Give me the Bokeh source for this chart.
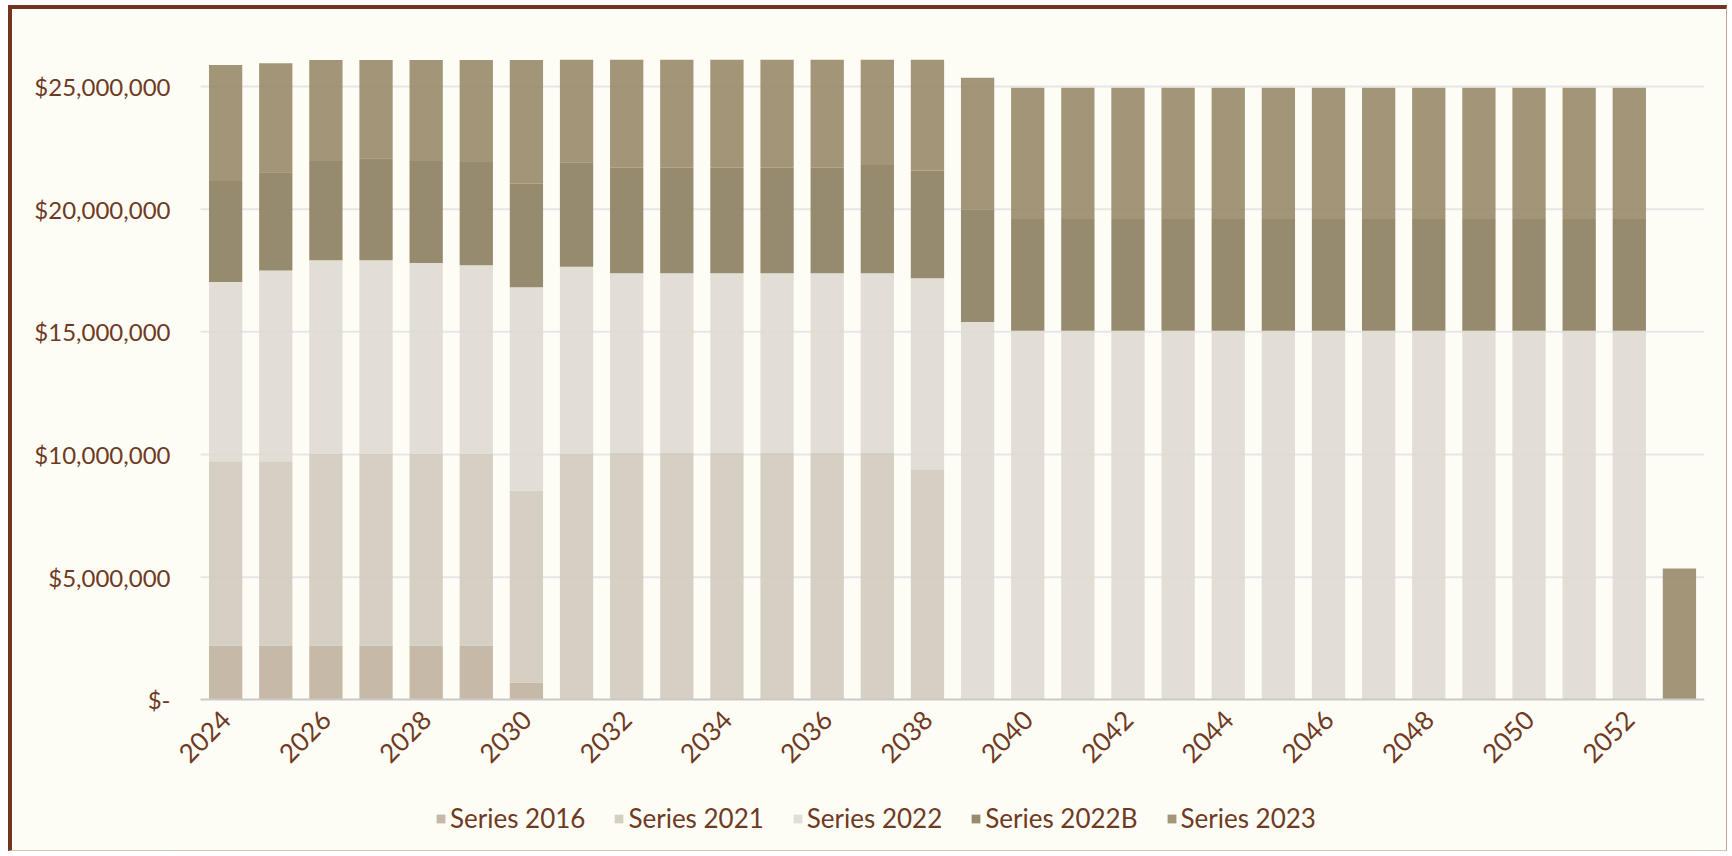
import math
from bokeh.plotting import figure
from bokeh.models import Range1d, FixedTicker, CustomJSTickFormatter, Legend, LegendItem, ColumnDataSource
from bokeh.embed import file_html
from bokeh.resources import INLINE

# ---- data (values in millions of dollars) ----
years = list(range(2024, 2054))
s2016 = [2.21, 2.21, 2.21, 2.21, 2.21, 2.21, 0.71] + [0.0] * 23
s2021 = [7.52, 7.52, 7.82, 7.82, 7.82, 7.82, 7.81, 10.04, 10.06, 10.06, 10.06, 10.06,
         10.06, 10.06, 9.40] + [0.0] * 15
s2022 = [7.30, 7.77, 7.89, 7.89, 7.78, 7.69, 8.30, 7.61, 7.33, 7.33, 7.33, 7.33, 7.33,
         7.33, 7.79, 15.40, 15.04, 15.04, 15.04, 15.04, 15.04, 15.04, 15.04, 15.04, 15.04,
         15.04, 15.04, 15.04, 15.04, 0.0]
s2022b = [4.12, 4.01, 4.05, 4.16, 4.16, 4.20, 4.22, 4.26, 4.30, 4.30, 4.30, 4.30, 4.30,
          4.41, 4.39, 4.60, 4.56, 4.56, 4.56, 4.56, 4.56, 4.56, 4.56, 4.56, 4.56, 4.56,
          4.56, 4.56, 4.56, 0.0]
s2023 = [4.73, 4.44, 4.11, 4.00, 4.11, 4.16, 5.04, 4.18, 4.40, 4.40, 4.40, 4.40, 4.40,
         4.29, 4.51, 5.36, 5.35, 5.35, 5.35, 5.35, 5.35, 5.35, 5.35, 5.35, 5.35, 5.35,
         5.35, 5.35, 5.35, 5.35]
series_names = ["Series 2016", "Series 2021", "Series 2022", "Series 2022B", "Series 2023"]
x_tick_years = list(range(2024, 2053, 2))
y_ticks = [0, 5e6, 10e6, 15e6, 20e6, 25e6]

# ---- styles ----
colors = ["#C1B39F", "#D2CBBE", "#E0DAD1", "#8E8163", "#9B8C6C"]
bg = "#FEFDF5"
txt = "#6F3A24"
font = "Lato"

keys = ["s2016", "s2021", "s2022", "s2022b", "s2023"]
data = {"year": years}
for k, arr in zip(keys, [s2016, s2021, s2022, s2022b, s2023]):
    data[k] = [v * 1e6 for v in arr]
source = ColumnDataSource(data)

x_lo, x_hi = years[0] - 0.5, years[-1] + 0.5

# frame runs to the bottom of the figure (room for rotated labels and legend);
# the category axis sits at $0
p = figure(width=1719, height=846, output_backend="svg", toolbar_location=None,
           x_range=Range1d(x_lo - 0.5, x_hi), y_range=Range1d(-6.184e6, 27.652e6),
           min_border_left=163, min_border_right=27, min_border_top=12, min_border_bottom=4,
           background_fill_color=bg, border_fill_color=bg, outline_line_color=None,
           styles={"margin-left": "8px", "margin-top": "5px",
                   "border-left": "4px solid #74351F", "border-top": "4px solid #74351F",
                   "border-right": "1px solid #BFA594", "border-bottom": "1px solid #D2C6BC"})

# horizontal gridlines across the plot area only
grid_y = y_ticks[1:]
p.segment(x0=[x_lo] * len(grid_y), x1=[x_hi] * len(grid_y), y0=grid_y, y1=grid_y,
          line_color="#E6E6E9", line_width=2, level="underlay")

renderers = p.vbar_stack(keys, x="year", width=0.664, source=source,
                         fill_color=colors, fill_alpha=0.92, line_color=None)

# axes
p.yaxis.ticker = FixedTicker(ticks=y_ticks)
p.yaxis.formatter = CustomJSTickFormatter(
    code="return tick == 0 ? '$-' : '$' + Math.round(tick).toLocaleString('en-US');")
p.yaxis.axis_line_color = None
p.yaxis.major_tick_line_color = None
p.yaxis.major_tick_out = 0
p.yaxis.minor_tick_line_color = None
p.yaxis.major_label_standoff = 5
p.yaxis.major_label_text_font = font
p.yaxis.major_label_text_font_size = "24px"
p.yaxis.major_label_text_color = txt

p.xaxis.fixed_location = 0
p.xaxis.bounds = (x_lo, x_hi)
p.xaxis.ticker = FixedTicker(ticks=x_tick_years)
p.xaxis.major_label_orientation = math.pi / 4
p.xaxis.major_tick_line_color = None
p.xaxis.major_tick_out = 0
p.xaxis.minor_tick_line_color = None
p.xaxis.axis_line_color = "#C9C9C9"
p.xaxis.axis_line_width = 2
p.xaxis.major_label_standoff = 15
p.xaxis.major_label_text_font = font
p.xaxis.major_label_text_font_size = "26px"
p.xaxis.major_label_text_color = txt

p.xgrid.visible = False
p.ygrid.visible = False

# legend under the axis labels
legend = Legend(items=[LegendItem(label=n, renderers=[r]) for n, r in zip(series_names, renderers)],
                location=(260, 17), orientation="horizontal", padding=0, margin=0, spacing=28,
                glyph_width=11, glyph_height=11, label_standoff=4, label_height=28,
                label_text_font=font, label_text_font_size="26px", label_text_color=txt,
                background_fill_alpha=0, border_line_color=None)
p.add_layout(legend)

open("out.html", "w").write(file_html(p, INLINE))
